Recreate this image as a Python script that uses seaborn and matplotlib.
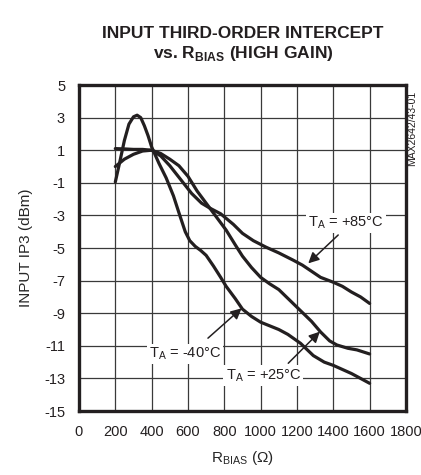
import pandas as pd
import seaborn as sns
from matplotlib import pyplot as plt

# values (R_BIAS in ohms, IIP3 in dBm)
rbias_m40 = [200, 225, 250, 275, 300, 320, 340, 360, 380, 400, 440, 480, 520, 555, 585,
             610, 640, 670, 700, 740, 780, 810, 860, 900, 950, 1000, 1100, 1150, 1220, 1290,
             1350, 1400, 1500, 1600]
iip3_m40 = [-0.95, 0.3, 1.6, 2.6, 3.05, 3.15, 3.0, 2.5, 1.9, 1.2, 0.2, -0.7, -1.8, -3.0, -4.0,
            -4.55, -4.9, -5.15, -5.45, -6.1, -6.8, -7.35, -8.1, -8.75, -9.2, -9.55, -10.0,
            -10.3, -10.85, -11.6, -12.0, -12.2, -12.7, -13.3]

rbias_p25 = [200, 250, 300, 350, 400, 450, 500, 550, 600, 650, 700, 750, 810, 860, 900, 950,
             1000, 1050, 1100, 1160, 1220, 1280, 1330, 1380, 1420, 1480, 1530, 1600]
iip3_p25 = [0.0, 0.45, 0.75, 0.95, 1.0, 0.8, 0.45, 0.05, -0.6, -1.5, -2.25, -3.0, -3.9, -4.8,
            -5.5, -6.2, -6.8, -7.2, -7.55, -8.2, -8.85, -9.5, -10.15, -10.7, -10.95, -11.15,
            -11.25, -11.5]

rbias_p85 = [200, 250, 300, 350, 400, 450, 500, 560, 620, 675, 720, 780, 850, 900, 960, 1030,
             1100, 1180, 1230, 1270, 1330, 1400, 1450, 1500, 1550, 1600]
iip3_p85 = [1.1, 1.08, 1.05, 1.05, 1.0, 0.65, 0.05, -0.8, -1.65, -2.25, -2.55, -2.9, -3.55,
            -4.1, -4.55, -4.95, -5.3, -5.75, -6.05, -6.35, -6.8, -7.1, -7.35, -7.7, -8.0, -8.4]

series_names = ["-40", "+25", "+85"]
x_ticks = list(range(0, 1801, 200))
y_ticks = list(range(5, -16, -2))

INK = "#231f20"
FONTS = ["Liberation Sans", "DejaVu Sans"]


def main() -> None:
    sns.set_theme(style="white")
    plt.rcParams["font.family"] = FONTS
    plt.rcParams["mathtext.fontset"] = "custom"
    plt.rcParams["mathtext.rm"] = "Liberation Sans"
    plt.rcParams["mathtext.bf"] = "Liberation Sans:bold"
    plt.rcParams["text.color"] = INK
    plt.rcParams["axes.unicode_minus"] = False

    df = pd.concat([
        pd.DataFrame({"rbias": rbias_m40, "iip3": iip3_m40, "temp": series_names[0]}),
        pd.DataFrame({"rbias": rbias_p25, "iip3": iip3_p25, "temp": series_names[1]}),
        pd.DataFrame({"rbias": rbias_p85, "iip3": iip3_p85, "temp": series_names[2]}),
    ])

    fig = plt.figure(figsize=(4.21, 4.75), dpi=100)
    ax = fig.add_axes([0.1876, 0.1347, 0.7767, 0.6863])

    sns.lineplot(data=df, x="rbias", y="iip3", hue="temp", sort=False,
                 palette={n: INK for n in series_names}, linewidth=2.3,
                 legend=False, ax=ax, zorder=3)

    ax.set_xlim(0, 1800)
    ax.set_ylim(-15, 5)
    ax.set_xticks(x_ticks)
    ax.set_yticks(y_ticks)
    ax.grid(True, color="#3a3a3a", linewidth=0.9)
    ax.tick_params(length=0, labelsize=10.5, colors=INK, pad=10)
    for spine in ax.spines.values():
        spine.set_linewidth(2.4)
        spine.set_color(INK)
        spine.set_zorder(5)

    ax.set_xlabel(r"R$_\mathrm{BIAS}$ ($\Omega$)", fontsize=11, labelpad=7)
    ax.set_ylabel("INPUT IP3 (dBm)", fontsize=11, labelpad=8)

    # two-line bold title
    fig.text(0.577, 0.929, "INPUT THIRD-ORDER INTERCEPT", ha="center", va="center",
             fontsize=12.5, fontweight="bold")
    fig.text(0.577, 0.887, r"vs. R$_\mathbf{BIAS}$ (HIGH GAIN)", ha="center", va="center",
             fontsize=12.5, fontweight="bold")
    fig.text(0.979, 0.81, "MAX2642/43-01", rotation=90, ha="center", va="top", fontsize=7.5)

    labels = [
        (r"T$_\mathrm{A}$ = +85°C", (1469, -3.47), (1427, -4.2), (1262, -5.94)),
        (r"T$_\mathrm{A}$ = -40°C", (582, -11.5), (710, -10.53), (895, -8.7)),
        (r"T$_\mathrm{A}$ = +25°C", (1015, -12.8), (1152, -12.07), (1326, -10.13)),
    ]
    for text, pos, start, tip in labels:
        ax.text(*pos, text, ha="center", va="center", fontsize=10.5, zorder=4,
                bbox=dict(fc="white", ec="none", pad=1.5))
        ax.annotate("", xy=tip, xytext=start, zorder=4,
                    arrowprops=dict(arrowstyle="-|>", color=INK, lw=1.1,
                                    mutation_scale=16, shrinkA=0, shrinkB=0))

    plt.savefig("out.png", dpi=100)


if __name__ == "__main__":
    main()
